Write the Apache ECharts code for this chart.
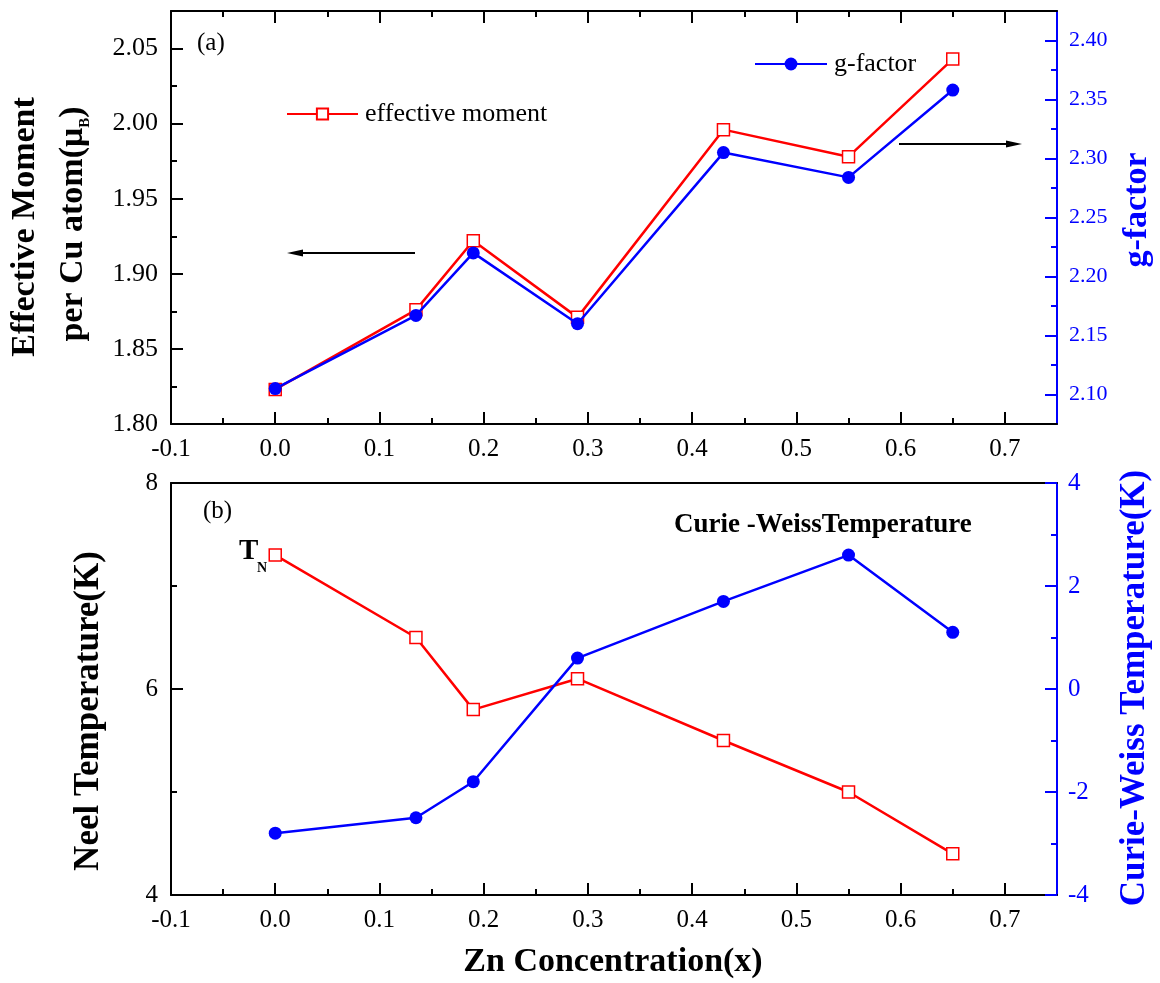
<!DOCTYPE html>
<html>
<head>
<meta charset="utf-8">
<script src="https://cdn.jsdelivr.net/npm/echarts@6/dist/echarts.min.js"></script>
<style>html,body{margin:0;padding:0;background:#fff;}#c{width:1160px;height:983px;}</style>
</head>
<body>
<div id="c"></div>
<script>
// ---- data ----
const xValues   = [0.0, 0.135, 0.19, 0.29, 0.43, 0.55, 0.65];
const effMoment = [1.823, 1.876, 1.922, 1.871, 1.996, 1.978, 2.043];
const gFactor   = [2.105, 2.167, 2.220, 2.160, 2.305, 2.284, 2.358];
const neelT     = [7.3, 6.5, 5.8, 6.1, 5.5, 5.0, 4.4];
const cwT       = [-2.8, -2.5, -1.8, 0.6, 1.7, 2.6, 1.1];

// ---- tick values ----
const xTicks      = [-0.1, 0.0, 0.1, 0.2, 0.3, 0.4, 0.5, 0.6, 0.7];
const xMinor      = [-0.05, 0.05, 0.15, 0.25, 0.35, 0.45, 0.55, 0.65];
const momentTicks = [1.80, 1.85, 1.90, 1.95, 2.00, 2.05];
const momentMinor = [1.825, 1.875, 1.925, 1.975, 2.025];
const gTicks      = [2.10, 2.15, 2.20, 2.25, 2.30, 2.35, 2.40];
const gMinor      = [2.125, 2.175, 2.225, 2.275, 2.325, 2.375];
const neelTicks   = [4, 6, 8];
const neelMinor   = [5, 7];
const cwTicks     = [-4, -2, 0, 2, 4];
const cwMinor     = [-3, -1, 1, 3];

const SERIF = 'Liberation Serif';
const BLACK = '#000000';
const RED = '#FF0000';
const BLUE = '#0000FF';

function pairs(xs, ys) { return xs.map((x, i) => [x, ys[i]]); }

function mainAxis(o) {
  return {
    type: 'value', gridIndex: o.grid, position: o.pos, min: o.min, max: o.max,
    splitLine: { show: false },
    axisLine: { show: true, onZero: false, lineStyle: { color: o.color, width: 2 } },
    axisTick: o.ticks ? { show: true, inside: true, length: 12, customValues: o.ticks,
                          lineStyle: { color: o.color, width: 2 } } : { show: false },
    axisLabel: o.labels ? { show: true, customValues: o.ticks, color: o.color, fontFamily: SERIF,
                            fontSize: o.fontSize || 25, margin: o.margin || 10,
                            formatter: v => v.toFixed(o.digits) } : { show: false }
  };
}
function minorAxis(o) {
  return {
    type: 'value', gridIndex: o.grid, position: o.pos, min: o.min, max: o.max,
    splitLine: { show: false },
    axisLine: { show: false, onZero: false },
    axisTick: { show: true, inside: true, length: 6, customValues: o.minor,
                lineStyle: { color: o.color, width: 2 } },
    axisLabel: { show: false }
  };
}

const X0 = { min: -0.1, max: 0.75 };
const xAxes = [
  mainAxis({ grid: 0, pos: 'bottom', ...X0, color: BLACK, ticks: xTicks, labels: true, digits: 1, margin: 13 }),
  minorAxis({ grid: 0, pos: 'bottom', ...X0, color: BLACK, minor: xMinor }),
  mainAxis({ grid: 0, pos: 'top', ...X0, color: BLACK, ticks: xTicks, labels: false }),
  minorAxis({ grid: 0, pos: 'top', ...X0, color: BLACK, minor: xMinor }),
  mainAxis({ grid: 1, pos: 'bottom', ...X0, color: BLACK, ticks: xTicks, labels: true, digits: 1, margin: 13 }),
  minorAxis({ grid: 1, pos: 'bottom', ...X0, color: BLACK, minor: xMinor }),
  mainAxis({ grid: 1, pos: 'top', ...X0, color: BLACK, ticks: null, labels: false })
];
const yAxes = [
  mainAxis({ grid: 0, pos: 'left', min: 1.80, max: 2.075, color: BLACK, ticks: momentTicks, labels: true, digits: 2, margin: 13, fontSize: 26 }),
  minorAxis({ grid: 0, pos: 'left', min: 1.80, max: 2.075, color: BLACK, minor: momentMinor }),
  mainAxis({ grid: 0, pos: 'right', min: 2.075, max: 2.425, color: BLUE, ticks: gTicks, labels: true, digits: 2, margin: 12, fontSize: 22 }),
  minorAxis({ grid: 0, pos: 'right', min: 2.075, max: 2.425, color: BLUE, minor: gMinor }),
  mainAxis({ grid: 1, pos: 'left', min: 4, max: 8, color: BLACK, ticks: neelTicks, labels: true, digits: 0, margin: 13 }),
  minorAxis({ grid: 1, pos: 'left', min: 4, max: 8, color: BLACK, minor: neelMinor }),
  mainAxis({ grid: 1, pos: 'right', min: -4, max: 4, color: BLUE, ticks: cwTicks, labels: true, digits: 0, margin: 11 }),
  minorAxis({ grid: 1, pos: 'right', min: -4, max: 4, color: BLUE, minor: cwMinor })
];

const redSquare = {
  type: 'line', symbol: 'rect', symbolSize: 12, z: 3,
  lineStyle: { color: RED, width: 2.5 },
  itemStyle: { color: '#ffffff', borderColor: RED, borderWidth: 1.5 }
};
const blueDot = {
  type: 'line', symbol: 'circle', symbolSize: 13, z: 4,
  lineStyle: { color: BLUE, width: 2.5 },
  itemStyle: { color: BLUE, borderColor: BLUE, borderWidth: 0 }
};

function txt(x, y, text, size, opts) {
  opts = opts || {};
  return {
    type: 'text', x: x, y: y, rotation: opts.rot || 0, z: 100,
    style: {
      text: text, fill: opts.color || BLACK, fontFamily: SERIF, fontSize: size,
      fontWeight: opts.bold ? 'bold' : 'normal',
      align: opts.align || 'center', verticalAlign: 'middle',
      textAlign: opts.align || 'center', textVerticalAlign: 'middle',
      rich: opts.rich
    }
  };
}

const option = {
  animation: false,
  backgroundColor: '#ffffff',
  grid: [
    { left: 171, right: 103, top: 11, height: 413 },
    { left: 171, right: 103, top: 483, height: 412 }
  ],
  xAxis: xAxes,
  yAxis: yAxes,
  legend: [
    { data: ['effective moment'], left: 286, top: 101, padding: 0, itemWidth: 71, itemHeight: 14, itemGap: 0,
      textStyle: { fontFamily: SERIF, fontSize: 26, color: BLACK, padding: [0, 0, 0, 2] } },
    { data: ['g-factor'], left: 754, top: 51, padding: 0, itemWidth: 72, itemHeight: 16, itemGap: 0,
      textStyle: { fontFamily: SERIF, fontSize: 26, color: BLACK, padding: [0, 0, 0, 2] } }
  ],
  series: [
    Object.assign({ name: 'effective moment', xAxisIndex: 0, yAxisIndex: 0, data: pairs(xValues, effMoment) }, redSquare),
    Object.assign({ name: 'g-factor', xAxisIndex: 0, yAxisIndex: 2, data: pairs(xValues, gFactor) }, blueDot),
    Object.assign({ name: 'Neel temperature', xAxisIndex: 4, yAxisIndex: 4, data: pairs(xValues, neelT) }, redSquare),
    Object.assign({ name: 'Curie-Weiss temperature', xAxisIndex: 4, yAxisIndex: 6, data: pairs(xValues, cwT) }, blueDot)
  ],
  graphic: [
    txt(25, 227, 'Effective Moment', 34, { bold: true, rot: Math.PI / 2 }),
    txt(73, 224, '{a|per Cu atom(μ}{b|B}{a|)}', 34, { rot: Math.PI / 2, rich: {
      a: { fontFamily: SERIF, fontSize: 34, fontWeight: 'bold', lineHeight: 40, verticalAlign: 'middle' },
      b: { fontFamily: SERIF, fontSize: 15, fontWeight: 'bold', lineHeight: 40, verticalAlign: 'bottom' }
    } }),
    txt(1137, 210, 'g-factor', 34, { bold: true, rot: Math.PI / 2, color: BLUE }),
    txt(89, 711, 'Neel Temperature(K)', 35, { bold: true, rot: Math.PI / 2 }),
    txt(1135, 688, 'Curie-Weiss Temperature(K)', 35, { bold: true, rot: Math.PI / 2, color: BLUE }),
    txt(613, 962, 'Zn Concentration(x)', 34, { bold: true }),
    txt(197, 43, '(a)', 25, { align: 'left' }),
    txt(203, 511, '(b)', 25, { align: 'left' }),
    txt(239, 552, 'T', 29, { align: 'left', bold: true }),
    txt(257, 568, 'N', 14, { align: 'left', bold: true }),
    txt(674, 525, 'Curie -WeissTemperature', 27, { align: 'left', bold: true }),
    // arrows
    { type: 'line', z: 100, shape: { x1: 415, y1: 253, x2: 300, y2: 253 }, style: { stroke: BLACK, lineWidth: 2 } },
    { type: 'polygon', z: 100, shape: { points: [[287, 253], [303, 249.5], [303, 256.5]] }, style: { fill: BLACK } },
    { type: 'line', z: 100, shape: { x1: 899, y1: 144, x2: 1008, y2: 144 }, style: { stroke: BLACK, lineWidth: 2 } },
    { type: 'polygon', z: 100, shape: { points: [[1022, 144], [1006, 140.5], [1006, 147.5]] }, style: { fill: BLACK } }
  ]
};

const chart = echarts.init(document.getElementById('c'), null, { renderer: 'canvas' });
chart.setOption(option);
</script>
</body>
</html>
